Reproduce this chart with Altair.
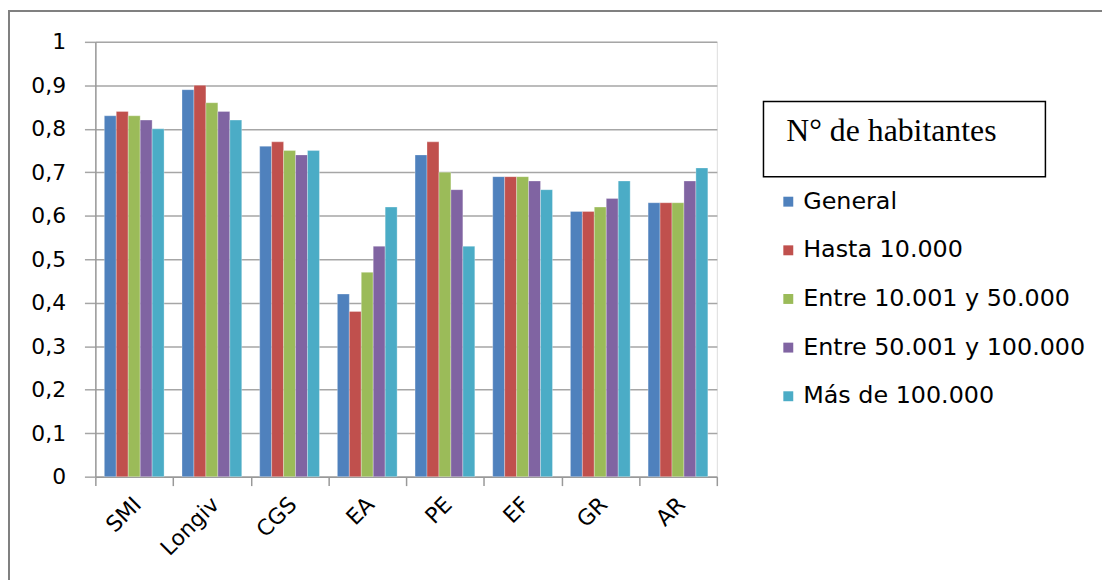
import altair as alt
import pandas as pd

categories = ["SMI", "Longiv", "CGS", "EA", "PE", "EF", "GR", "AR"]
series = ["General", "Hasta 10.000", "Entre 10.001 y 50.000",
          "Entre 50.001 y 100.000", "Más de 100.000"]
general = [0.83, 0.89, 0.76, 0.42, 0.74, 0.69, 0.61, 0.63]
hasta_10000 = [0.84, 0.90, 0.77, 0.38, 0.77, 0.69, 0.61, 0.63]
entre_10001_50000 = [0.83, 0.86, 0.75, 0.47, 0.70, 0.69, 0.62, 0.63]
entre_50001_100000 = [0.82, 0.84, 0.74, 0.53, 0.66, 0.68, 0.64, 0.68]
mas_100000 = [0.80, 0.82, 0.75, 0.62, 0.53, 0.66, 0.68, 0.71]
colors = ["#4F81BD", "#C0504D", "#9BBB59", "#8064A2", "#4BACC6"]
y_ticks = [0, 0.1, 0.2, 0.3, 0.4, 0.5, 0.6, 0.7, 0.8, 0.9, 1.0]
legend_title = "N° de habitantes"

values = [general, hasta_10000, entre_10001_50000, entre_50001_100000, mas_100000]
rows = []
for s, vals in zip(series, values):
    for c, v in zip(categories, vals):
        rows.append({"cat": c, "serie": s, "valor": v})
df = pd.DataFrame(rows)

W, H = 626, 438
FONT = "DejaVu Sans"

bars = alt.Chart(df).mark_bar(stroke="#ffffff", strokeWidth=0.5, strokeOpacity=0.6).encode(
    x=alt.X("cat:N", sort=categories,
            scale=alt.Scale(paddingInner=0, paddingOuter=0),
            axis=alt.Axis(title=None, labelAngle=-45, labelAlign="right",
                          labelBaseline="middle", labelFontSize=22, labelFont=FONT,
                          labelColor="#000000", labelPadding=15, tickBand="extent",
                          tickSize=9, tickColor="#999999", domainColor="#999999",
                          domainWidth=1.5, tickWidth=1.5, labelOffset=3)),
    xOffset=alt.XOffset("serie:N", sort=series,
                        scale=alt.Scale(paddingInner=0, paddingOuter=0.75)),
    y=alt.Y("valor:Q", scale=alt.Scale(domain=[0, 1], nice=False),
            axis=alt.Axis(title=None, values=y_ticks,
                          labelExpr="replace(format(datum.value, '.1~f'), '.', ',')",
                          labelFontSize=22, labelFont=FONT, labelColor="#000000",
                          labelPadding=19, tickSize=11, tickColor="#A6A6A6", tickWidth=1.5,
                          domainColor="#999999", domainWidth=1.5,
                          grid=True, gridColor="#A6A6A6", gridWidth=1.5)),
    color=alt.Color("serie:N", sort=series,
                    scale=alt.Scale(domain=series, range=colors),
                    legend=alt.Legend(orient="none", legendX=686, legendY=149,
                                      title=None, symbolType="square", symbolSize=100,
                                      symbolStrokeWidth=0, labelFontSize=24,
                                      labelFont=FONT, labelColor="#000000",
                                      labelLimit=500, rowPadding=25, padding=0,
                                      labelOffset=3)),
)

one = pd.DataFrame({"t": [legend_title]})

frame = alt.Chart(one).mark_rect(filled=False, stroke="#808080", strokeWidth=2).encode(
    x=alt.value(-87), x2=alt.value(1040), y=alt.value(-31), y2=alt.value(560))

box = alt.Chart(one).mark_rect(fill="white", stroke="#000000", strokeWidth=1.5).encode(
    x=alt.value(673), x2=alt.value(957), y=alt.value(60), y2=alt.value(136))

box_text = alt.Chart(one).mark_text(align="left", baseline="alphabetic",
                                    font="Liberation Serif", fontSize=32,
                                    color="#000000").encode(
    x=alt.value(696), y=alt.value(100), text="t:N")

chart = alt.layer(frame, box, box_text, bars).properties(
    width=W, height=H,
    autosize=alt.AutoSizeParams(type="none"),
    padding={"left": 88, "top": 32, "right": 388, "bottom": 102},
).configure_view(stroke=None).configure(background="white")

chart.save("out.html", embed_options={"renderer": "svg", "actions": False})
